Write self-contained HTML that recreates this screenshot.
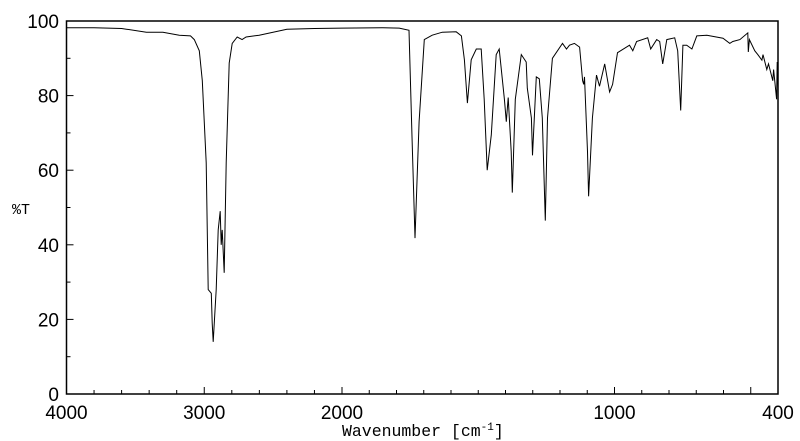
<!DOCTYPE html>
<html><head><meta charset="utf-8"><style>
html,body{margin:0;padding:0;background:#fff;}
svg{display:block;}
text{font-family:"Liberation Sans",Arial,sans-serif;fill:#000;}
.mono{font-family:"Liberation Mono",monospace;}
</style></head><body>
<svg id="chart" width="800" height="441" viewBox="0 0 800 441" xmlns="http://www.w3.org/2000/svg">
<rect x="66.5" y="21" width="711.5" height="373" fill="none" stroke="#000" stroke-width="1.5"/>
<g id="ticks"></g>
<g id="labels"></g>
<path id="spectrum" fill="none" stroke="#000" stroke-width="1"/>
<text class="mono" x="12" y="214" font-size="15">%T</text>
<text class="mono" x="342" y="436" font-size="16.5">Wavenumber [cm<tspan font-size="11" dy="-6">-1</tspan><tspan dy="6">]</tspan></text>
</svg>
<script>
const wavenumbers=[4000,3800,3600,3420,3300,3181,3100,3072,3036,3014,2986,2971,2949,2942,2935,2913,2899,2884,2877,2870,2855,2841,2819,2797,2761,2725,2696,2601,2400,2200,2000,1850,1790,1754,1743,1732,1717,1698,1669,1632,1581,1562,1551,1540,1526,1507,1489,1478,1467,1452,1434,1423,1404,1397,1390,1379,1375,1364,1342,1324,1320,1305,1301,1287,1276,1265,1254,1246,1228,1191,1176,1165,1147,1128,1117,1113,1110,1099,1095,1081,1066,1055,1036,1018,1007,989,945,933,919,878,867,845,834,823,808,779,768,757,749,735,716,698,661,602,577,566,540,511,509,505,485,474,459,455,441,435,419,416,405,403,400];
const transmittance=[98.2,98.2,98,97,97,96.2,96,95,92,84,62,28,27,19,14,28,44,49,40,44,32.5,62,88.7,94,95.7,95,95.7,96.2,97.8,98,98.1,98.2,98.1,97.5,69,41.8,73,95,96.2,97,97.1,96,89.6,78,89.6,92.5,92.5,79,60,69.5,91,92.5,79,73,79.5,65,54,79,91,89,82,74,64,85,84.5,74,46.5,74,90,94,92.5,93.5,94,93,84,83,85,65,53,74,85.5,82.5,88.5,81,83,91.5,93.5,92,94.5,95.5,92.5,95,94.5,88.5,95,95.5,92,76,93.5,93.5,92.5,96,96.2,95.4,94,94.5,95,96.8,91.7,95,92,91,89.5,91,87,88.5,84,87,79,89,82];
const leftTicks=[4000,3800,3600,3400,3200,3000,2800,2600,2400,2200,2000];
const rightTicks=[1900,1800,1700,1600,1500,1400,1300,1200,1100,1000,900,800,700,600,500,400];
const xLabels=["4000","3000","2000","1000","400"];
const yLabels=["0","20","40","60","80","100"];
const NS="http://www.w3.org/2000/svg";
function xs(w){return w>=2000?66.5+(4000-w)*0.13775:342+(2000-w)*0.2725;}
function ys(t){return 394-t*3.73;}
let d="";
wavenumbers.forEach((w,i)=>{d+=(i?"L":"M")+xs(w).toFixed(1)+" "+ys(transmittance[i]).toFixed(1);});
document.getElementById("spectrum").setAttribute("d",d);
const tg=document.getElementById("ticks"),lg=document.getElementById("labels");
function line(x1,y1,x2,y2){const l=document.createElementNS(NS,"line");l.setAttribute("x1",x1);l.setAttribute("y1",y1);l.setAttribute("x2",x2);l.setAttribute("y2",y2);l.setAttribute("stroke","#000");l.setAttribute("stroke-width","1");


tg.appendChild(l);}
leftTicks.concat(rightTicks).forEach(w=>{const major=(w%1000===0)||w===500;line(xs(w),394,xs(w),394-(major?7:4));});
for(let t=0;t<=100;t+=10){line(66.5,ys(t),66.5+(t%20===0?7:4),ys(t));}
xLabels.forEach(s=>{const t=document.createElementNS(NS,"text");t.setAttribute("x",xs(+s));t.setAttribute("y",419);t.setAttribute("font-size","19");t.setAttribute("text-anchor","middle");t.textContent=s;


lg.appendChild(t);});
yLabels.forEach(s=>{const t=document.createElementNS(NS,"text");t.setAttribute("x",59);t.setAttribute("y",ys(+s)+7);t.setAttribute("font-size","19");t.setAttribute("text-anchor","end");t.textContent=s;


lg.appendChild(t);});
</script>
</body></html>
